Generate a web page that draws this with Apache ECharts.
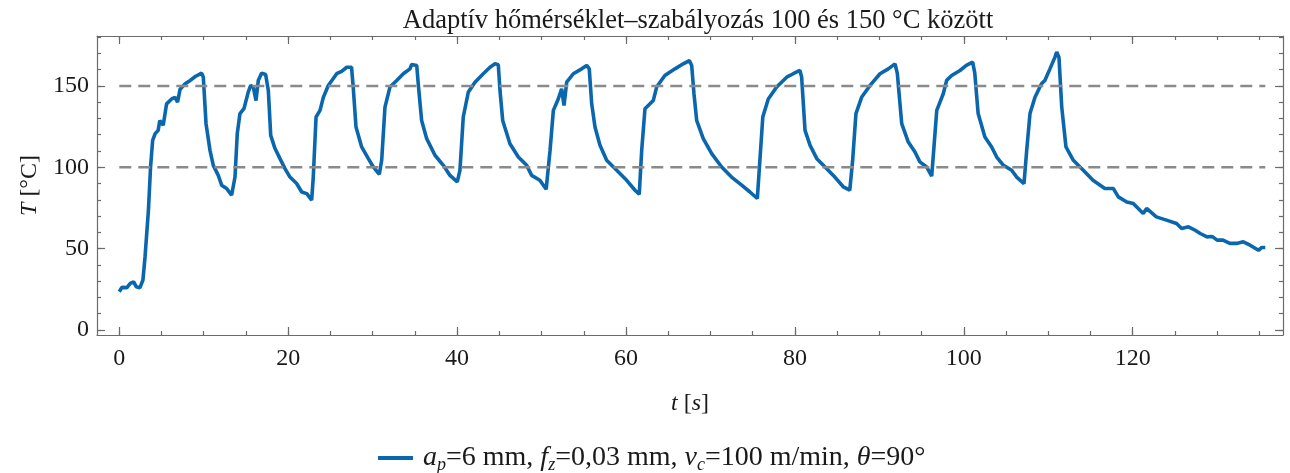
<!DOCTYPE html>
<html>
<head>
<meta charset="utf-8">
<script src="https://cdn.jsdelivr.net/npm/echarts@6/dist/echarts.min.js"></script>
<style>
  html, body { margin: 0; padding: 0; background: #fff; }
  #chart { width: 1290px; height: 473px; }
</style>
</head>
<body>
<div id="chart"></div>
<script>
const timeS = [
  0, 0.3, 0.9, 1.3, 1.7, 2.0, 2.45, 2.8, 3.05, 3.45, 3.7, 3.95, 4.25, 4.6, 4.8, 5.2, 5.6, 6.2, 6.6, 6.9,
  7.2, 7.8, 8.4, 9.0, 9.75, 9.95, 10.27, 10.74, 11.13, 11.72, 12.12, 12.7, 13.3, 13.5, 13.7, 13.97, 14.29, 14.76, 15.27, 15.56,
  15.87, 16.19, 16.46, 16.86, 17.33, 17.65, 17.93, 18.44, 19.03, 19.62, 20.21, 21.0, 21.6, 22.2, 22.78, 22.97, 23.3, 23.77, 24.16, 24.75,
  25.74, 26.33, 26.93, 27.5, 27.7, 28.03, 28.7, 29.49, 30.08, 30.79, 31.07, 31.46, 32.05, 32.85, 33.63, 34.42, 34.62, 35.22, 35.4, 35.8,
  36.4, 37.38, 38.37, 39.16, 40.02, 40.34, 40.73, 41.33, 42.12, 43.1, 43.9, 44.49, 44.88, 45.08, 45.4, 46.26, 47.25, 48.24, 48.83, 49.8,
  50.55, 51.0, 51.4, 51.98, 52.38, 52.66, 52.98, 53.76, 54.75, 55.35, 55.65, 55.94, 56.33, 56.92, 57.71, 58.9, 60.08, 61.07, 61.57, 61.86,
  62.25, 63.23, 63.63, 64.6, 65.8, 66.78, 67.5, 67.78, 68.05, 68.37, 69.15, 70.15, 71.33, 72.5, 73.7, 74.68, 75.55, 75.8, 76.2, 76.85,
  77.84, 79.03, 79.8, 80.6, 80.8, 81.2, 81.8, 82.6, 83.57, 84.55, 85.73, 86.5, 86.84, 87.23, 87.9, 88.9, 90.08, 91.06, 91.86, 92.13,
  92.65, 93.43, 94.22, 94.8, 95.6, 96.2, 96.47, 96.8, 97.57, 97.97, 98.56, 99.55, 100.3, 101.05, 101.3, 101.7, 102.5, 103.3, 103.9, 104.7,
  105.67, 106.26, 107.13, 107.45, 107.84, 108.43, 109.2, 109.6, 110.2, 110.8, 111.0, 111.27, 111.6, 112.1, 112.97, 114.15, 115.3, 116.7, 117.7, 118.3,
  119.3, 120.07, 121.25, 121.65, 122.8, 124.0, 125.2, 125.8, 126.6, 127.4, 128.0, 128.8, 129.4, 130.0, 130.7, 131.5, 132.3, 133.1, 133.9, 134.9,
  135.3, 135.7
];
const tempC = [
  23.5, 26.2, 26, 28.6, 29.6, 26.6, 26, 30.7, 45, 73.6, 100, 116.6, 120.7, 122.7, 128.8, 125.8, 139, 142, 143, 140,
  148, 151.3, 153.4, 155.8, 157.9, 155.4, 126.8, 110.4, 101.2, 95, 89, 87, 82.8, 81.8, 94, 120.7, 133, 136, 146.2, 150.3,
  149.3, 141, 153.4, 157.9, 157, 147, 119.6, 111.5, 105.3, 99.2, 94, 90, 84.8, 83.8, 79.8, 94, 130.9, 135, 143, 150.3,
  157.5, 159, 161.5, 161.5, 149.3, 124.7, 112.5, 105.3, 100.2, 95.7, 104.3, 137, 149.3, 153.4, 157.5, 160.5, 163.2, 162.6, 151.3, 128.8,
  117.6, 107.4, 101.2, 95, 91, 98.2, 130.9, 146.2, 152.3, 157.5, 161.5, 163.6, 163, 147.2, 128.8, 114.5, 106.3, 101.2, 95, 92,
  86.5, 110, 135, 142, 148.3, 138, 152.3, 157.5, 160.5, 162.6, 160.5, 139, 124.7, 113.5, 104.3, 98.2, 92, 85.9, 83.4, 110.4,
  136, 141, 149.3, 156.4, 160.5, 163.6, 165.6, 162.6, 145.2, 128.8, 117.6, 108.4, 100.2, 94, 89, 84.8, 80.8, 100, 130.9, 142,
  149.3, 155.4, 157.5, 159.5, 155.4, 122.7, 113.5, 105.3, 100.2, 95, 88, 85.9, 104.3, 133, 143, 150.3, 157.5, 160.5, 163.6, 157.7,
  126.8, 115.5, 109.4, 103.3, 100.2, 94.5, 112.5, 135, 145.2, 153.4, 156.4, 159.5, 162.6, 164.6, 158, 133, 118.6, 112.5, 106.3, 101.2,
  98.2, 94, 90, 110.4, 133, 143, 151.3, 153.4, 160.5, 167.7, 170.8, 167.7, 137, 112.5, 104.3, 98.2, 92, 87, 87, 81.8,
  78.7, 77.7, 71.6, 74.7, 69.5, 67.5, 65.4, 62.4, 63.4, 61.3, 59.3, 57.2, 57.5, 55.2, 55.2, 53.2, 53.2, 54.2, 52.1, 49,
  50.7, 50.7
];

// the two target limits, dashed
const limitSpan = [0, 135.7];
const limitLow = [100, 100];
const limitHigh = [150, 150];

const xMajorTicks = [0, 20, 40, 60, 80, 100, 120];
const xMinorTicks = [0, 5, 10, 15, 20, 25, 30, 35, 40, 45, 50, 55, 60, 65, 70, 75, 80, 85, 90, 95, 100, 105, 110, 115, 120, 125, 130, 135];
const yMajorTicks = [0, 50, 100, 150];
const yMinorTicks = [0, 10, 20, 30, 40, 50, 60, 70, 80, 90, 100, 110, 120, 130, 140, 150, 160, 170, 180];

const X_MIN = -2.64, X_MAX = 137.8;
const Y_MIN = -3.1, Y_MAX = 180.7;

const FONT = 'Liberation Serif';
const INK = '#1a1a1a';
const frameLine = { color: '#6b6b6b', width: 1.2 };

function pairs(xs, ys) {
  return xs.map((x, i) => [x, ys[i]]);
}

function frameAxis(kind, position, ticks, len, withLine, extra) {
  return Object.assign({
    type: 'value',
    position,
    min: kind === 'x' ? X_MIN : Y_MIN,
    max: kind === 'x' ? X_MAX : Y_MAX,
    axisLine: { show: withLine, onZero: false, lineStyle: frameLine },
    axisTick: { show: true, inside: true, length: len, customValues: ticks, lineStyle: frameLine },
    axisLabel: { show: false },
    splitLine: { show: false },
  }, extra || {});
}

const labelStyle = { fontFamily: FONT, fontSize: 24, color: INK };

function nameStyle(size) {
  return {
    fontFamily: FONT, fontSize: size, color: INK,
    rich: {
      i: { fontFamily: FONT, fontSize: size, fontStyle: 'italic', color: INK },
    },
  };
}

const chart = echarts.init(document.getElementById('chart'));

chart.setOption({
  animation: false,
  title: {
    text: 'Adaptív hőmérséklet–szabályozás 100 és 150 °C között',
    left: 693,
    textAlign: 'center',
    top: 3,
    textStyle: { fontFamily: FONT, fontSize: 26.5, fontWeight: 'normal', color: INK },
  },
  grid: { left: 97, right: 7, top: 36, bottom: 138 },
  legend: {
    left: 373,
    top: 439,
    icon: 'rect',
    itemWidth: 35,
    itemHeight: 4,
    data: ['series'],
    formatter: () =>
      '{i|a}{s|p}{n|=6 mm, }{i|f}{s|z}{n|=0,03 mm, }{i|v}{s|c}{n|=100 m/min, }{i|θ}{n|=90°}',
    textStyle: {
      fontFamily: FONT, fontSize: 28, color: INK,
      padding: [0, 0, 0, 5],
      rich: {
        n: { fontFamily: FONT, fontSize: 28, color: INK },
        i: { fontFamily: FONT, fontSize: 28, fontStyle: 'italic', color: INK },
        s: { fontFamily: FONT, fontSize: 18, fontStyle: 'italic', color: INK, padding: [15, 0, 0, 0] },
      },
    },
  },
  xAxis: [
    frameAxis('x', 'bottom', xMajorTicks, 8, true, {
      axisLabel: Object.assign({ show: true, customValues: xMajorTicks, margin: 12 }, labelStyle),
      name: '{i|t} [{i|s}]',
      nameLocation: 'middle',
      nameGap: 57,
      nameTextStyle: nameStyle(24),
    }),
    frameAxis('x', 'bottom', xMinorTicks, 4, false),
    frameAxis('x', 'top', xMajorTicks, 8, true),
    frameAxis('x', 'top', xMinorTicks, 4, false),
  ],
  yAxis: [
    frameAxis('y', 'left', yMajorTicks, 8, true, {
      axisLabel: Object.assign({ show: true, customValues: yMajorTicks, margin: 8 }, labelStyle),
      name: '{i|T} [°C]',
      nameLocation: 'middle',
      nameGap: 50,
      nameTextStyle: nameStyle(24),
    }),
    frameAxis('y', 'left', yMinorTicks, 4, false),
    frameAxis('y', 'right', yMajorTicks, 8, true),
    frameAxis('y', 'right', yMinorTicks, 4, false),
  ],
  series: [
    {
      name: 'series',
      type: 'line',
      data: pairs(timeS, tempC),
      symbol: 'none',
      lineStyle: { color: '#0a67ad', width: 3.6 },
      itemStyle: { color: '#0a67ad' },
      z: 2,
    },
    {
      name: 'low',
      type: 'line',
      data: pairs(limitSpan, limitLow),
      symbol: 'none',
      silent: true,
      lineStyle: { color: '#8a8a8a', width: 2.4, type: [12, 7] },
      z: 3,
    },
    {
      name: 'high',
      type: 'line',
      data: pairs(limitSpan, limitHigh),
      symbol: 'none',
      silent: true,
      lineStyle: { color: '#8a8a8a', width: 2.4, type: [12, 7] },
      z: 3,
    },
  ],
});
</script>
</body>
</html>
